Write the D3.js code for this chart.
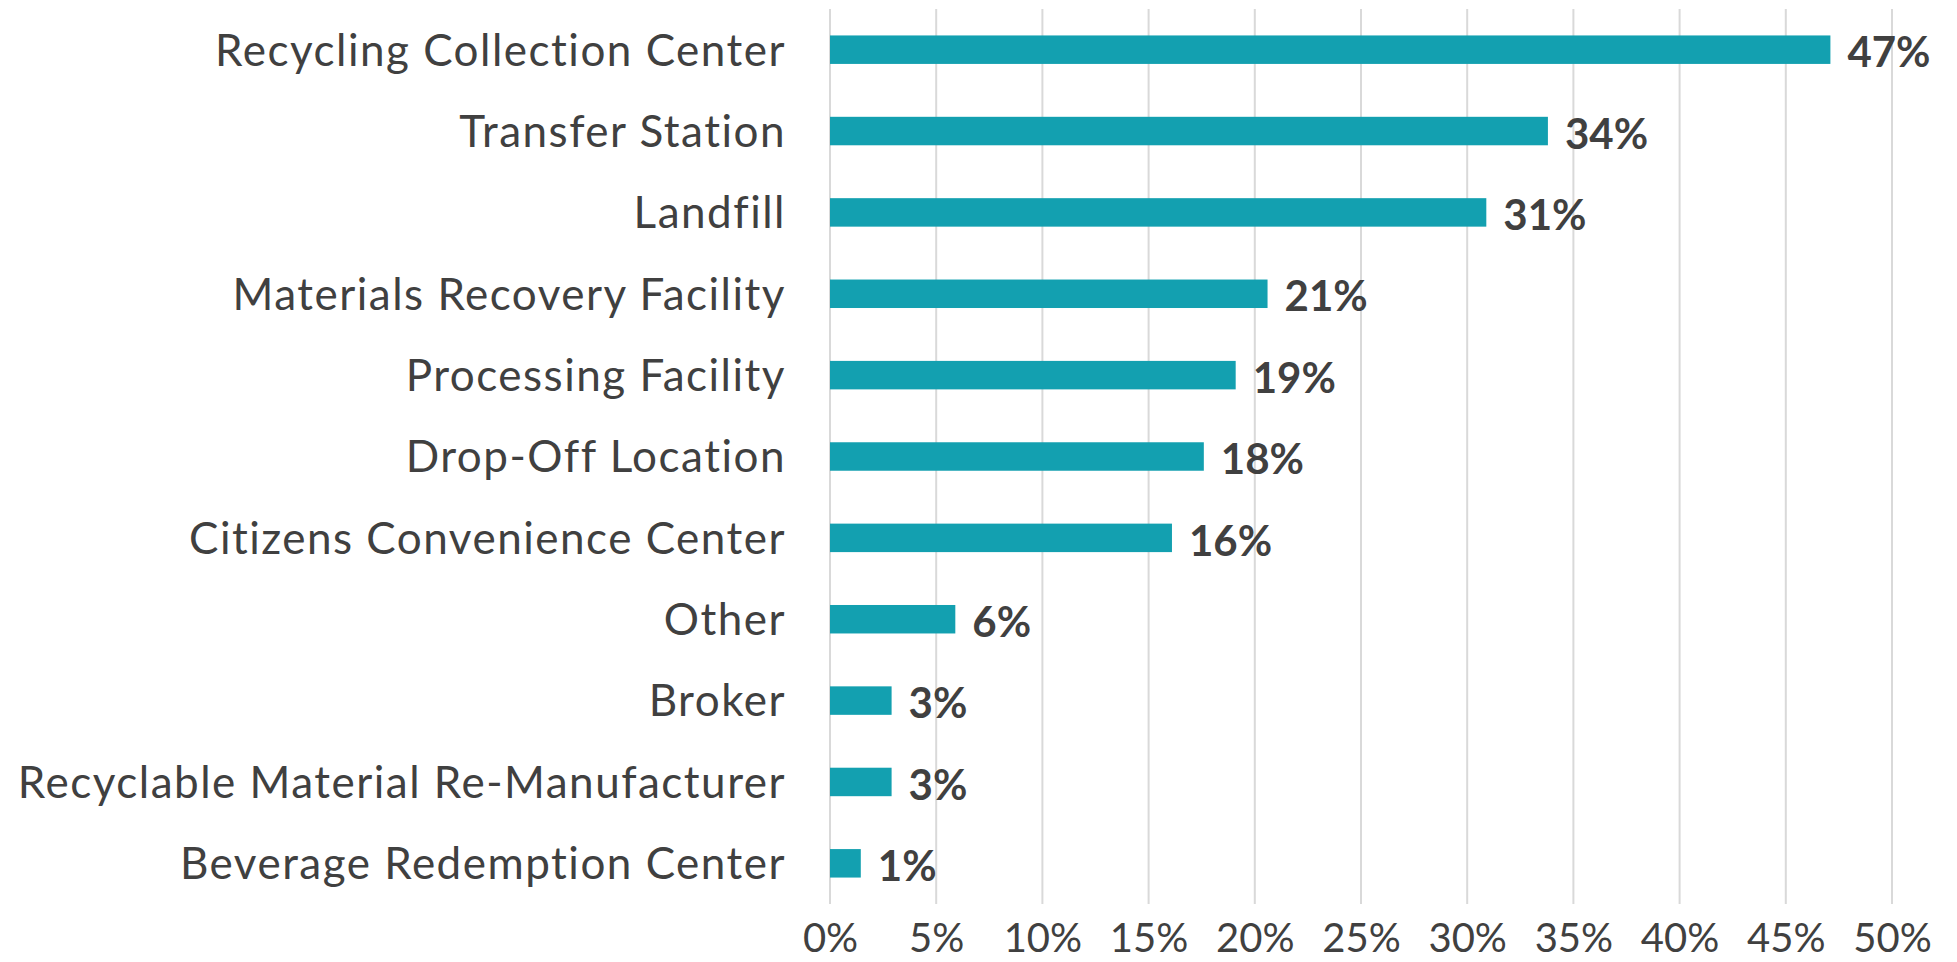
<!DOCTYPE html>
<html>
<head>
<meta charset="utf-8">
<script src="https://cdn.jsdelivr.net/npm/d3@7"></script>
<style>
  html, body { margin: 0; padding: 0; background: #ffffff; }
  svg { display: block; }
  text { font-family: Lato, "Open Sans", sans-serif; fill: #404040; }
</style>
</head>
<body>
<svg id="chart" width="1957" height="962"></svg>
<script>
const categories = [
  "Recycling Collection Center",
  "Transfer Station",
  "Landfill",
  "Materials Recovery Facility",
  "Processing Facility",
  "Drop-Off Location",
  "Citizens Convenience Center",
  "Other",
  "Broker",
  "Recyclable Material Re-Manufacturer",
  "Beverage Redemption Center"
];
const values = [47.1, 33.8, 30.9, 20.6, 19.1, 17.6, 16.1, 5.9, 2.9, 2.9, 1.45];
const valueLabels = ["47%", "34%", "31%", "21%", "19%", "18%", "16%", "6%", "3%", "3%", "1%"];
const tickValues = [0, 5, 10, 15, 20, 25, 30, 35, 40, 45, 50];
const tickLabels = ["0%", "5%", "10%", "15%", "20%", "25%", "30%", "35%", "40%", "45%", "50%"];

(function () {
const svg = d3.select("#chart");
const mLeft = 830, mRight = 1892, mTop = 9, mBottom = 904;

const x = d3.scaleLinear().domain([0, 50]).range([mLeft, mRight]);
const y = d3.scaleBand().domain(categories).range([mTop, mBottom])
  .paddingInner(0.65).paddingOuter(0.325);

// gridlines
svg.append("g").selectAll("line").data(tickValues).join("line")
  .attr("x1", d => x(d)).attr("x2", d => x(d))
  .attr("y1", mTop).attr("y2", mBottom)
  .attr("stroke", "#d9d9d9").attr("stroke-width", 2);

// x axis labels
const xAxis = d3.axisBottom(x).tickValues(tickValues)
  .tickFormat((d, i) => tickLabels[i]).tickSize(0).tickPadding(0);
const gx = svg.append("g").attr("transform", `translate(0,${mBottom})`).call(xAxis);
gx.select(".domain").remove();
gx.selectAll("text")
  .attr("y", 48).attr("dy", null)
  .style("font-size", "40px").style("fill", "#404040")
  .style("font-family", "Lato, 'Open Sans', sans-serif");

// bars
svg.append("g").selectAll("rect").data(values).join("rect")
  .attr("x", x(0))
  .attr("y", (d, i) => y(categories[i]))
  .attr("width", d => x(d) - x(0))
  .attr("height", y.bandwidth())
  .attr("fill", "#13a0b0");

// y axis category labels
const yAxis = d3.axisLeft(y).tickSize(0).tickPadding(44);
const gy = svg.append("g").attr("transform", `translate(${mLeft},0)`).call(yAxis);
gy.select(".domain").remove();
gy.selectAll("text")
  .attr("dy", "0.36em")
  .style("font-size", "44px").style("fill", "#404040")
  .style("letter-spacing", "1.5px")
  .style("font-family", "Lato, 'Open Sans', sans-serif");

// value labels
svg.append("g").selectAll("text").data(values).join("text")
  .attr("x", d => x(d) + 17)
  .attr("y", (d, i) => y(categories[i]) + y.bandwidth() / 2)
  .attr("dy", "0.42em")
  .style("font-size", "42px").style("font-weight", "bold")
  .text((d, i) => valueLabels[i]);
})();
</script>
</body>
</html>
